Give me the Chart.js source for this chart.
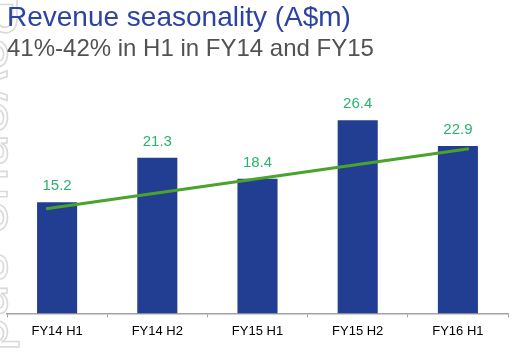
<!DOCTYPE html>
<html>
<head>
<meta charset="utf-8">
<script src="https://cdn.jsdelivr.net/npm/chart.js@4.4.1/dist/chart.umd.min.js"></script>
<style>
  html, body { margin: 0; padding: 0; background: #fff; }
  #wrap { position: relative; width: 517px; height: 352px; overflow: hidden; }
  #chart { position: absolute; left: 0; top: 0; }
  .title {
    position: absolute; left: 7px; top: 3px; white-space: nowrap;
    font-family: "Liberation Sans", Arial, sans-serif;
    font-size: 28px; line-height: 28px; color: #2c43a3;
  }
  .subtitle {
    position: absolute; left: 7px; top: 36px; white-space: nowrap;
    font-family: "Liberation Sans", Arial, sans-serif;
    font-size: 24px; line-height: 24px; color: #525252;
  }
</style>
</head>
<body>
<div id="wrap">
  <canvas id="chart" width="517" height="352"></canvas>
  <div class="title">Revenue seasonality (A$m)</div>
  <div class="subtitle">41%-42% in H1 in FY14 and FY15</div>
</div>
<script>
const categories = ["FY14 H1", "FY14 H2", "FY15 H1", "FY15 H2", "FY16 H1"];
const revenue = [15.2, 21.3, 18.4, 26.4, 22.9];
// trend arrow drawn by hand on the slide: start and end (category index, A$m)
const trendX = [-0.11, 4.11];
const trendY = [14.3, 22.5];

const watermarkText = "Revenue and sales";

// faint outlined text running down the left edge
const watermark = {
  id: "watermark",
  beforeDraw(chart) {
    const ctx = chart.ctx;
    ctx.save();
    ctx.translate(-24, -6);
    ctx.rotate(Math.PI / 2);
    ctx.font = "60px 'Liberation Sans', Arial, sans-serif";
    ctx.strokeStyle = "#dadada";
    ctx.lineWidth = 1.6;
    ctx.textBaseline = "alphabetic";
    ctx.strokeText(watermarkText, 0, 0);
    ctx.restore();
  },
};

const valueLabels = {
  id: "valueLabels",
  afterDatasetsDraw(chart) {
    const ctx = chart.ctx;
    const meta = chart.getDatasetMeta(0);
    ctx.save();
    ctx.font = "15px 'Liberation Sans', Arial, sans-serif";
    ctx.fillStyle = "#27b46e";
    ctx.textAlign = "center";
    ctx.textBaseline = "middle";
    meta.data.forEach((bar, i) => {
      ctx.fillText(revenue[i].toFixed(1), bar.x, bar.y - 16);
    });
    ctx.restore();
  },
};

new Chart(document.getElementById("chart"), {
  data: {
    labels: categories,
    datasets: [
      {
        type: "bar",
        data: revenue,
        xAxisID: "x",
        backgroundColor: "#213e92",
        barPercentage: 0.4,
        categoryPercentage: 1,
        grouped: false,
        order: 1,
      },
      {
        type: "line",
        data: trendX.map((x, i) => ({ x: x, y: trendY[i] })),
        xAxisID: "xTrend",
        borderColor: "#4aa32b",
        borderWidth: 3,
        pointRadius: 0,
        fill: false,
        order: 0,
      },
    ],
  },
  options: {
    responsive: false,
    animation: false,
    layout: { padding: { left: 7, right: 9, top: 94, bottom: 7 } },
    plugins: {
      legend: { display: false },
      tooltip: { enabled: false },
    },
    scales: {
      x: {
        grid: {
          display: true,
          drawOnChartArea: false,
          drawTicks: true,
          tickLength: 4,
          color: "#a3a3a3",
        },
        border: { display: true, color: "#a3a3a3", width: 1.5 },
        ticks: {
          color: "#000",
          padding: 6,
          font: { family: "'Liberation Sans', Arial, sans-serif", size: 13 },
        },
      },
      xTrend: {
        type: "linear",
        display: false,
        min: -0.5,
        max: 4.5,
      },
      y: { display: false, min: 0, max: 30 },
    },
  },
  plugins: [watermark, valueLabels],
});
</script>
</body>
</html>
